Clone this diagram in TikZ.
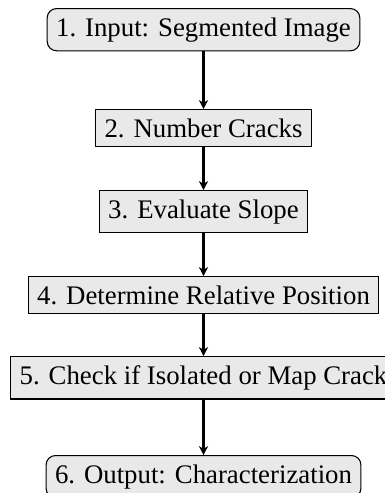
\documentclass[tikz,border=0pt]{standalone}
\usepackage{fontspec}
\setmainfont{Liberation Serif}
\usetikzlibrary{arrows.meta}
\begin{document}
\begin{tikzpicture}[x=0.3731pt,y=-0.3731pt,
  stepbox/.style={draw, fill=gray!17, anchor=north, font=\fontsize{10}{12}\selectfont},
  termbox/.style={stepbox, rounded corners=3.5pt},
  flow/.style={thick, -{Stealth[length=3.3pt,width=3.4pt,inset=1pt]}}]
\useasboundingbox (0,0) rectangle (385,493);
\clip (0,0) rectangle (385,493);
% process steps, top to bottom
\node[termbox] (s1) at (203.5,8)   {1. Input: Segmented Image};
\node[stepbox] (s2) at (203.5,109) {2. Number Cracks};
\node[stepbox] (s3) at (203.5,190) {3. Evaluate Slope};
\node[stepbox] (s4) at (203.5,276) {4. Determine Relative Position};
\node[stepbox] (s5) at (203.5,356) {5. Check if Isolated or Map Crack};
\node[termbox] (s6) at (203.5,455) {6. Output: Characterization};
% connectors
\draw[flow] (s1) -- (s2);
\draw[flow] (s2) -- (s3);
\draw[flow] (s3) -- (s4);
\draw[flow] (s4) -- (s5);
\draw[flow] (s5) -- (s6);
\end{tikzpicture}
\end{document}
